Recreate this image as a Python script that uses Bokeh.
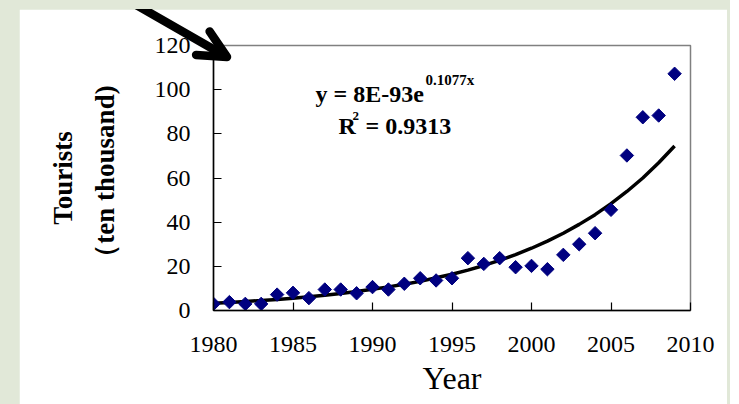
from bokeh.plotting import figure
from bokeh.models import Range1d, FixedTicker, Label, GridBox, Div
from bokeh.embed import file_html
from bokeh.resources import INLINE
import numpy as np

# ---- data ----
years = list(range(1980, 2010))
tourists = [3.0, 3.8, 3.0, 3.0, 7.2, 8.0, 5.6, 9.5, 9.5, 7.8,
            10.6, 9.5, 12.1, 14.6, 13.6, 14.6, 23.7, 21.1, 23.7, 19.6,
            20.2, 18.7, 25.2, 30.0, 35.0, 45.6, 70.2, 87.5, 88.3, 107.2]
trend = [3.3, 3.6, 4.1, 4.5, 5.0, 5.6, 6.2, 6.9, 7.7, 8.6,
         9.6, 10.7, 11.9, 13.2, 14.8, 16.4, 18.3, 20.4, 22.7, 25.3,
         28.2, 31.4, 35.0, 39.0, 43.4, 48.4, 53.9, 60.0, 66.9, 74.5]
x_ticks = [1980, 1985, 1990, 1995, 2000, 2005, 2010]
y_ticks = [0, 20, 40, 60, 80, 100, 120]
eq_main = "y = 8E-93e"
eq_exp = "0.1077x"
r2_text = "= 0.9313"
y_title = "Tourists\n（ten thousand)"
x_title = "Year"

W, H = 708, 395
p = figure(width=W, height=H, output_backend="svg", toolbar_location=None,
           x_range=Range1d(1980, 2010), y_range=Range1d(0, 120),
           min_border_left=194, min_border_right=37,
           min_border_top=36, min_border_bottom=94)
p.background_fill_color = "white"
p.border_fill_color = "white"
p.grid.visible = False
p.outline_line_color = "#808080"
p.outline_line_width = 1.5

for ax, ticks in ((p.xaxis[0], x_ticks), (p.yaxis[0], y_ticks)):
    ax.ticker = FixedTicker(ticks=ticks)
    ax.axis_line_color = "black"
    ax.axis_line_width = 1.5
    ax.major_tick_in = 8
    ax.major_tick_out = 0
    ax.major_tick_line_color = "black"
    ax.major_tick_line_width = 1.2
    ax.minor_tick_line_color = None
    ax.major_label_text_font = "Liberation Serif"
    ax.major_label_text_font_size = "24px"
    ax.major_label_text_color = "black"

p.xaxis.major_label_standoff = 26
p.yaxis.major_label_standoff = 23

p.xaxis.axis_label = x_title
p.xaxis.axis_label_text_font = "Liberation Serif"
p.xaxis.axis_label_text_font_style = "normal"
p.xaxis.axis_label_text_font_size = "32px"
p.xaxis.axis_label_text_color = "black"
p.xaxis.axis_label_standoff = 5

p.yaxis.axis_label = y_title
p.yaxis.axis_label_text_font = "Liberation Serif"
p.yaxis.axis_label_text_font_style = "bold"
p.yaxis.axis_label_text_font_size = "27px"
p.yaxis.axis_label_text_line_height = 1.4
p.yaxis.axis_label_text_color = "black"
p.yaxis.axis_label_standoff = 32

# trend line and data points
p.line(years, trend, line_color="black", line_width=3.5)
p.scatter(years, tourists, marker="square", angle=np.pi / 4, size=9.5,
          fill_color="#000080", line_color="#000080")

# equation annotations
common = dict(text_font="Liberation Serif", text_font_style="bold",
              text_color="black", text_baseline="alphabetic")
p.add_layout(Label(x=1986.42, y=98.1, text=eq_main, text_font_size="24px", **common))
p.add_layout(Label(x=1993.33, y=104.2, text=eq_exp, text_font_size="15px", **common))
p.add_layout(Label(x=1987.86, y=83.7, text="R", text_font_size="24px", **common))
p.add_layout(Label(x=1988.74, y=88.3, text="2", text_font_size="13px", **common))
p.add_layout(Label(x=1989.56, y=83.7, text=r2_text, text_font_size="24px", **common))

# ---- pointing arrow (decoration) drawn in a transparent overlay, canvas pixels ----
tip = np.array([208.0, 48.0])
ang = np.arctan2(57.0, 99.5)              # shaft direction (screen, y down)
back = ang + np.pi
start = tip + 175.0 * np.array([np.cos(back), np.sin(back)])
shaft_end = tip - 4.0 * np.array([np.cos(ang), np.sin(ang)])
wing_len, wing_ang = 31.0, np.radians(26)
w1 = tip + wing_len * np.array([np.cos(back - wing_ang), np.sin(back - wing_ang)])
w2 = tip + wing_len * np.array([np.cos(back + wing_ang), np.sin(back + wing_ang)])
svg = (
    f'<svg xmlns="http://www.w3.org/2000/svg" width="{W}" height="{H}" '
    'style="position:absolute;left:0;top:0;pointer-events:none;">'
    f'<path d="M{start[0]:.1f},{start[1]:.1f} L{shaft_end[0]:.1f},{shaft_end[1]:.1f}" '
    'stroke="black" stroke-width="8.5" stroke-linecap="round" fill="none"/>'
    f'<path d="M{w1[0]:.1f},{w1[1]:.1f} L{tip[0]:.1f},{tip[1]:.1f} L{w2[0]:.1f},{w2[1]:.1f}" '
    'stroke="black" stroke-width="8.5" stroke-linecap="round" stroke-linejoin="round" fill="none"/>'
    '</svg>'
)
arrow_div = Div(text=svg, width=W, height=H, margin=0,
                styles={"pointer-events": "none", "position": "relative"})

root = GridBox(children=[(p, 0, 0), (arrow_div, 0, 0)], width=W, height=H)

html = file_html(root, INLINE)
style = ("<style>html { margin: 0 !important; padding: 0 !important; background-color: #ffffff !important; } "
         "body { box-sizing: border-box !important; margin: 0 !important; padding: 9px 0 0 19px !important; "
         "width: 730px; height: 404px; background-color: #e1e8d8 !important; overflow: hidden; }</style>")
html = html.replace("</head>", style + "</head>", 1)
open("out.html", "w").write(html)
